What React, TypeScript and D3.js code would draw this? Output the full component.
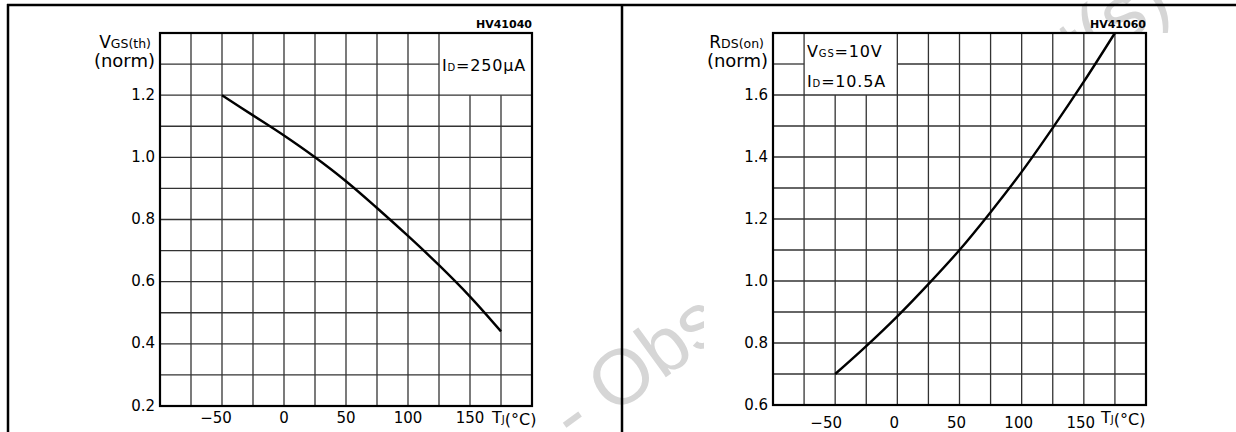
import * as d3 from "d3";
import React from "react";

// Vgs(th) (normalised) vs junction temperature
const vgsTemp = [-50, -25, 0, 25, 50, 75, 100, 125, 150, 175];
const vgsNorm = [1.2, 1.135, 1.07, 1.0, 0.923, 0.837, 0.747, 0.653, 0.552, 0.44];

// Rds(on) (normalised) vs junction temperature
const rdsTemp = [-50, -25, 0, 25, 50, 75, 100, 125, 150, 175];
const rdsNorm = [0.7, 0.79, 0.886, 0.99, 1.1, 1.222, 1.352, 1.494, 1.643, 1.8];

const tempTicks = [-50, 0, 50, 100, 150];
const vgsTicks = [0.2, 0.4, 0.6, 0.8, 1.0, 1.2];
const rdsTicks = [0.6, 0.8, 1.0, 1.2, 1.4, 1.6];

const FONT = "DejaVu Sans";

function drawPanel(svg, cfg) {
    const x = d3.scaleLinear().domain([-100, 200]).range([cfg.left, cfg.right]);
    const y = d3.scaleLinear().domain(cfg.yDomain).range([cfg.bottom, cfg.top]);
    const g = svg.append("g");
    const box = cfg.box;

    // grid, with the legend box kept clear
    const xs = d3.range(-100, 201, 25);
    const ys = d3.range(0, 13).map(i => +(cfg.yDomain[0] + i * 0.1).toFixed(2));
    xs.forEach(t => {
        const top = (t > box.t0 && t < box.t1) ? y(box.v0) : cfg.top;
        g.append("line")
            .attr("x1", x(t)).attr("x2", x(t))
            .attr("y1", top).attr("y2", cfg.bottom)
            .attr("stroke", "#333").attr("stroke-width", 1.3);
    });
    ys.forEach(v => {
        const segs = (v > box.v0 && v < box.v1)
            ? [[cfg.left, x(box.t0)], [x(box.t1), cfg.right]]
            : [[cfg.left, cfg.right]];
        segs.forEach(s => {
            if (s[1] - s[0] < 1) return;
            g.append("line")
                .attr("x1", s[0]).attr("x2", s[1])
                .attr("y1", y(v)).attr("y2", y(v))
                .attr("stroke", "#333").attr("stroke-width", 1.3);
        });
    });

    // plot frame
    g.append("rect")
        .attr("x", cfg.left).attr("y", cfg.top)
        .attr("width", cfg.right - cfg.left).attr("height", cfg.bottom - cfg.top)
        .attr("fill", "none").attr("stroke", "#000").attr("stroke-width", 2.2);

    // curve
    const line = d3.line()
        .x(d => x(d[0]))
        .y(d => y(d[1]))
        .curve(d3.curveCatmullRom.alpha(0.5));
    g.append("path")
        .datum(cfg.temps.map((t, i) => [t, cfg.values[i]]))
        .attr("d", line)
        .attr("fill", "none").attr("stroke", "#000").attr("stroke-width", 2.4);

    // y tick labels
    g.selectAll(".ylab")
        .data(cfg.yTicks)
        .enter()
        .append("text")
        .text(d => d.toFixed(1))
        .attr("x", cfg.left - 5)
        .attr("y", d => y(d))
        .attr("dominant-baseline", "middle")
        .attr("text-anchor", "end")
        .style("font-family", FONT).style("font-size", "15px");

    // x tick labels
    g.selectAll(".xlab")
        .data(tempTicks)
        .enter()
        .append("text")
        .text(d => d < 0 ? "\u2212" + Math.abs(d) : d)
        .attr("x", d => x(d) + (d < 0 ? -6 : 0) + cfg.xLabDx)
        .attr("y", cfg.xLabY)
        .attr("text-anchor", "middle")
        .style("font-family", FONT).style("font-size", "15px");

    // x unit label
    const tl = g.append("text")
        .attr("x", cfg.unitX).attr("y", cfg.unitY)
        .style("font-family", FONT);
    tl.append("tspan").text("T").style("font-size", "16px");
    tl.append("tspan").text("J").style("font-size", "10px");
    tl.append("tspan").text("(°C)").style("font-size", "16px").attr("dy", 2);

    // y label
    const yl = g.append("text")
        .attr("x", cfg.left - 9).attr("y", 48)
        .attr("text-anchor", "end")
        .style("font-family", FONT);
    yl.append("tspan").text(cfg.yName[0]).style("font-size", "17px");
    yl.append("tspan").text(cfg.yName[1]).style("font-size", "12.5px");
    g.append("text")
        .text("(norm)")
        .attr("x", cfg.left - 5).attr("y", 67)
        .attr("text-anchor", "end")
        .style("font-family", FONT).style("font-size", "18px");

    // conditions inside the box
    cfg.conds.forEach((c, i) => {
        const t = g.append("text")
            .attr("x", x(box.t0) + 3)
            .attr("y", cfg.condY[i])
            .style("font-family", FONT).style("letter-spacing", "0.8px");
        t.append("tspan").text(c[0]).style("font-size", "16px");
        t.append("tspan").text(c[1]).style("font-size", "10px");
        t.append("tspan").text(c[2]).style("font-size", "16px");
    });

    // figure code
    g.append("text")
        .text(cfg.code)
        .attr("x", cfg.right).attr("y", 28)
        .attr("text-anchor", "end")
        .style("font-family", FONT).style("font-size", "11px").style("font-weight", "bold");
}

const App = () => {
    const ref = React.useRef(null);

    React.useEffect(() => {
        const svg = d3.select(ref.current);
        svg.selectAll("*").remove();

        // watermark, mostly hidden behind the right-hand chart
        svg.append("text")
            .text("- Obsolete Product(s)")
            .attr("transform", "translate(574,444) rotate(-36)")
            .style("font-family", "Liberation Sans").style("font-size", "78px")
            .style("fill", "#d6d6d6");
        svg.append("rect")
            .attr("x", 704).attr("y", 33).attr("width", 532).attr("height", 399)
            .attr("fill", "#fff");

        drawPanel(svg, {
            left: 160, right: 532, top: 33, bottom: 406,
            yDomain: [0.2, 1.4], yTicks: vgsTicks,
            temps: vgsTemp, values: vgsNorm,
            box: { t0: 125, t1: 200, v0: 1.2, v1: 1.4 },
            conds: [["I", "D", "=250µA"]], condY: [71],
            yName: ["V", "GS(th)"],
            code: "HV41040",
            xLabY: 423, xLabDx: 0, unitX: 492, unitY: 423
        });
        drawPanel(svg, {
            left: 773, right: 1146, top: 33, bottom: 405,
            yDomain: [0.6, 1.8], yTicks: rdsTicks,
            temps: rdsTemp, values: rdsNorm,
            box: { t0: -75, t1: 0, v0: 1.6, v1: 1.8 },
            conds: [["V", "GS", "=10V"], ["I", "D", "=10.5A"]], condY: [57, 87],
            yName: ["R", "DS(on)"],
            code: "HV41060",
            xLabY: 428, xLabDx: -3, unitX: 1101, unitY: 423
        });

        // outer frame
        const frame = [[7, 5, 1236, 5], [8, 4, 8, 432], [622, 5, 622, 432]];
        frame.forEach(f => {
            svg.append("line")
                .attr("x1", f[0]).attr("y1", f[1]).attr("x2", f[2]).attr("y2", f[3])
                .attr("stroke", "#000").attr("stroke-width", 2.5);
        });
    }, []);

    return (
        <svg
            ref={ref}
            width={1236}
            height={432}
            style={{ position: "absolute", left: 0, top: 0, background: "#fff" }}
        />
    );
};

export default App;
